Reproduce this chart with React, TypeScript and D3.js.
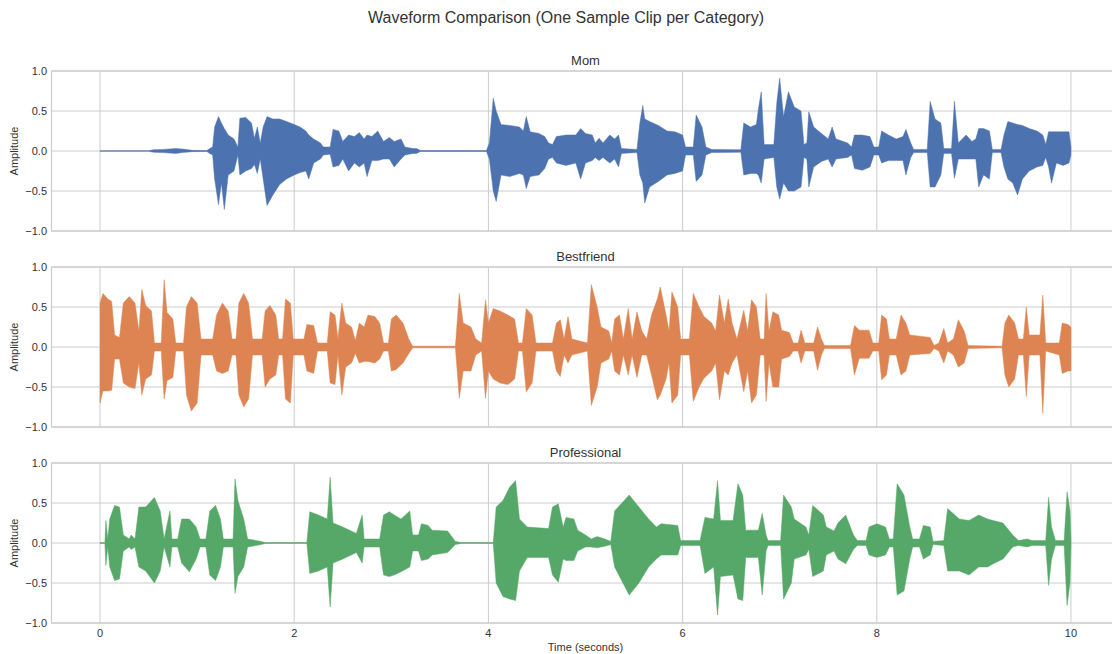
import React from 'react';
import * as d3 from 'd3';

// Categories, in panel order, with their colours
const CATEGORIES = ['Mom', 'Bestfriend', 'Professional'];
const COLORS = ['#4C72B0', '#DD8452', '#55A868'];

const X_TICKS = [0, 2, 4, 6, 8, 10];
const Y_TICKS = [-1, -0.5, 0, 0.5, 1];

// Amplitude envelopes of each clip: [time (s), upper peak, lower peak]
const MOM: [number, number, number][] = [
  [0, 0.003, -0.003], [0.5, 0.003, -0.003], [0.55, 0.015, -0.015], [0.65, 0.02, -0.02],
  [0.78, 0.03, -0.03], [0.85, 0.025, -0.02], [0.95, 0.008, -0.008], [1.1, 0.006, -0.006],
  [1.13, 0.03, -0.03], [1.16, 0.05, -0.05], [1.18, 0.3, -0.35], [1.22, 0.43, -0.67],
  [1.25, 0.35, -0.4], [1.28, 0.28, -0.73], [1.32, 0.2, -0.3], [1.38, 0.15, -0.25],
  [1.42, 0.05, -0.05], [1.44, 0.41, -0.3], [1.5, 0.42, -0.25], [1.56, 0.35, -0.22],
  [1.59, 0.16, -0.17], [1.62, 0.3, -0.28], [1.65, 0.1, -0.1], [1.68, 0.3, -0.35],
  [1.72, 0.43, -0.68], [1.78, 0.4, -0.55], [1.85, 0.4, -0.42], [1.92, 0.37, -0.35],
  [2.0, 0.33, -0.3], [2.06, 0.3, -0.27], [2.12, 0.25, -0.25], [2.15, 0.2, -0.35],
  [2.2, 0.15, -0.15], [2.27, 0.1, -0.1], [2.3, 0.05, -0.05], [2.37, 0.05, -0.04],
  [2.4, 0.27, -0.2], [2.46, 0.25, -0.18], [2.5, 0.12, -0.1], [2.56, 0.2, -0.25],
  [2.62, 0.18, -0.15], [2.67, 0.23, -0.2], [2.72, 0.15, -0.15], [2.75, 0.2, -0.32],
  [2.8, 0.18, -0.12], [2.86, 0.25, -0.12], [2.92, 0.12, -0.1], [2.98, 0.17, -0.1],
  [3.03, 0.12, -0.2], [3.1, 0.15, -0.1], [3.14, 0.05, -0.05], [3.22, 0.03, -0.03],
  [3.26, 0.03, -0.03], [3.3, 0.006, -0.006], [3.98, 0.005, -0.005], [4.01, 0.1, -0.1],
  [4.05, 0.66, -0.5], [4.08, 0.5, -0.63], [4.13, 0.33, -0.3], [4.22, 0.32, -0.32],
  [4.32, 0.3, -0.28], [4.36, 0.25, -0.3], [4.39, 0.43, -0.47], [4.43, 0.24, -0.32],
  [4.52, 0.22, -0.3], [4.58, 0.18, -0.22], [4.62, 0.1, -0.1], [4.66, 0.08, -0.08],
  [4.7, 0.18, -0.15], [4.8, 0.2, -0.18], [4.9, 0.2, -0.15], [4.95, 0.28, -0.35],
  [5.0, 0.22, -0.15], [5.07, 0.2, -0.12], [5.1, 0.1, -0.08], [5.14, 0.16, -0.12],
  [5.18, 0.1, -0.08], [5.25, 0.2, -0.15], [5.3, 0.15, -0.1], [5.34, 0.2, -0.2],
  [5.37, 0.03, -0.03], [5.53, 0.02, -0.02], [5.56, 0.35, -0.3], [5.59, 0.57, -0.4],
  [5.61, 0.4, -0.65], [5.66, 0.37, -0.45], [5.75, 0.32, -0.38], [5.84, 0.25, -0.3],
  [5.92, 0.24, -0.28], [6.0, 0.2, -0.25], [6.03, 0.05, -0.05], [6.11, 0.05, -0.05],
  [6.14, 0.45, -0.38], [6.2, 0.3, -0.3], [6.24, 0.05, -0.05], [6.3, 0.02, -0.02],
  [6.6, 0.015, -0.015], [6.63, 0.35, -0.3], [6.7, 0.3, -0.28], [6.76, 0.33, -0.28],
  [6.78, 0.52, -0.3], [6.81, 0.74, -0.4], [6.84, 0.08, -0.1], [6.94, 0.08, -0.08],
  [6.97, 0.6, -0.45], [7.0, 0.91, -0.6], [7.04, 0.43, -0.4], [7.09, 0.74, -0.5],
  [7.15, 0.55, -0.5], [7.22, 0.5, -0.45], [7.25, 0.08, -0.08], [7.28, 0.1, -0.1],
  [7.3, 0.49, -0.45], [7.35, 0.3, -0.2], [7.43, 0.22, -0.13], [7.5, 0.15, -0.1],
  [7.54, 0.3, -0.2], [7.58, 0.15, -0.1], [7.7, 0.1, -0.08], [7.74, 0.05, -0.05],
  [7.77, 0.2, -0.22], [7.85, 0.2, -0.24], [7.93, 0.18, -0.2], [7.97, 0.05, -0.05],
  [8.02, 0.05, -0.05], [8.05, 0.25, -0.15], [8.12, 0.2, -0.12], [8.2, 0.15, -0.12],
  [8.27, 0.18, -0.12], [8.3, 0.27, -0.3], [8.35, 0.1, -0.08], [8.38, 0.02, -0.02],
  [8.52, 0.02, -0.02], [8.55, 0.62, -0.45], [8.6, 0.4, -0.45], [8.66, 0.35, -0.3],
  [8.69, 0.03, -0.03], [8.77, 0.03, -0.03], [8.8, 0.62, -0.34], [8.84, 0.1, -0.1],
  [8.92, 0.2, -0.1], [8.98, 0.12, -0.1], [9.02, 0.15, -0.1], [9.05, 0.28, -0.45],
  [9.1, 0.28, -0.3], [9.16, 0.25, -0.35], [9.19, 0.02, -0.02], [9.28, 0.02, -0.02],
  [9.31, 0.2, -0.2], [9.35, 0.37, -0.35], [9.4, 0.35, -0.4], [9.45, 0.33, -0.55],
  [9.5, 0.32, -0.35], [9.57, 0.28, -0.25], [9.65, 0.25, -0.2], [9.71, 0.2, -0.18],
  [9.74, 0.08, -0.08], [9.77, 0.24, -0.2], [9.8, 0.24, -0.4], [9.85, 0.24, -0.15],
  [9.92, 0.24, -0.18], [9.98, 0.24, -0.15], [10.0, 0.05, -0.05],
];

const BESTFRIEND: [number, number, number][] = [
  [0.0, 0.55, -0.7], [0.03, 0.67, -0.55], [0.08, 0.6, -0.55], [0.12, 0.57, -0.54],
  [0.15, 0.15, -0.15], [0.2, 0.12, -0.15], [0.24, 0.55, -0.45], [0.3, 0.63, -0.5],
  [0.36, 0.55, -0.52], [0.4, 0.2, -0.2], [0.43, 0.72, -0.6], [0.47, 0.52, -0.4],
  [0.53, 0.45, -0.35], [0.56, 0.05, -0.05], [0.63, 0.05, -0.05], [0.66, 0.84, -0.65],
  [0.69, 0.43, -0.42], [0.75, 0.35, -0.38], [0.78, 0.05, -0.05], [0.86, 0.05, -0.05],
  [0.89, 0.5, -0.6], [0.94, 0.63, -0.8], [1.0, 0.55, -0.7], [1.04, 0.1, -0.1],
  [1.16, 0.1, -0.1], [1.2, 0.4, -0.3], [1.26, 0.55, -0.33], [1.32, 0.45, -0.3],
  [1.36, 0.1, -0.1], [1.4, 0.1, -0.1], [1.43, 0.55, -0.6], [1.48, 0.67, -0.75],
  [1.53, 0.55, -0.65], [1.57, 0.1, -0.1], [1.67, 0.1, -0.1], [1.7, 0.45, -0.5],
  [1.75, 0.52, -0.4], [1.81, 0.4, -0.35], [1.84, 0.1, -0.1], [1.88, 0.1, -0.1],
  [1.91, 0.6, -0.65], [1.96, 0.55, -0.7], [1.99, 0.1, -0.1], [2.1, 0.1, -0.1],
  [2.13, 0.28, -0.3], [2.2, 0.27, -0.33], [2.24, 0.05, -0.05], [2.34, 0.05, -0.05],
  [2.37, 0.44, -0.45], [2.42, 0.4, -0.47], [2.45, 0.1, -0.1], [2.49, 0.55, -0.6],
  [2.53, 0.3, -0.25], [2.59, 0.25, -0.2], [2.63, 0.08, -0.08], [2.67, 0.3, -0.2],
  [2.72, 0.25, -0.18], [2.76, 0.4, -0.18], [2.83, 0.38, -0.2], [2.88, 0.3, -0.15],
  [2.92, 0.05, -0.05], [2.97, 0.05, -0.05], [3.0, 0.35, -0.3], [3.05, 0.4, -0.28],
  [3.12, 0.3, -0.2], [3.18, 0.1, -0.08], [3.22, 0.01, -0.01], [3.66, 0.01, -0.01],
  [3.7, 0.67, -0.64], [3.74, 0.3, -0.3], [3.82, 0.25, -0.3], [3.87, 0.1, -0.1],
  [3.93, 0.05, -0.05], [3.97, 0.59, -0.64], [4.0, 0.3, -0.3], [4.05, 0.48, -0.4],
  [4.12, 0.45, -0.45], [4.2, 0.4, -0.47], [4.27, 0.35, -0.4], [4.31, 0.05, -0.05],
  [4.35, 0.05, -0.05], [4.39, 0.48, -0.56], [4.45, 0.4, -0.45], [4.49, 0.05, -0.05],
  [4.66, 0.05, -0.05], [4.7, 0.3, -0.3], [4.74, 0.34, -0.37], [4.78, 0.1, -0.1],
  [4.82, 0.38, -0.2], [4.86, 0.1, -0.1], [5.02, 0.05, -0.05], [5.06, 0.78, -0.73],
  [5.12, 0.5, -0.5], [5.16, 0.25, -0.2], [5.24, 0.2, -0.15], [5.27, 0.05, -0.05],
  [5.3, 0.35, -0.3], [5.35, 0.4, -0.35], [5.39, 0.1, -0.1], [5.44, 0.48, -0.35],
  [5.48, 0.1, -0.1], [5.53, 0.44, -0.38], [5.58, 0.2, -0.1], [5.63, 0.1, -0.1],
  [5.68, 0.4, -0.35], [5.74, 0.6, -0.66], [5.77, 0.75, -0.6], [5.83, 0.4, -0.4],
  [5.86, 0.2, -0.2], [5.89, 0.69, -0.7], [5.95, 0.5, -0.6], [5.98, 0.1, -0.1],
  [6.07, 0.1, -0.1], [6.11, 0.67, -0.68], [6.17, 0.5, -0.5], [6.22, 0.38, -0.39],
  [6.3, 0.3, -0.3], [6.34, 0.2, -0.2], [6.38, 0.65, -0.66], [6.43, 0.3, -0.3],
  [6.47, 0.6, -0.35], [6.51, 0.3, -0.2], [6.56, 0.1, -0.1], [6.63, 0.46, -0.56],
  [6.67, 0.2, -0.3], [6.71, 0.59, -0.7], [6.76, 0.5, -0.6], [6.8, 0.1, -0.1],
  [6.84, 0.1, -0.1], [6.86, 0.67, -0.68], [6.89, 0.2, -0.2], [6.93, 0.44, -0.5],
  [6.99, 0.4, -0.5], [7.02, 0.21, -0.15], [7.1, 0.18, -0.12], [7.14, 0.05, -0.05],
  [7.19, 0.05, -0.05], [7.22, 0.21, -0.2], [7.26, 0.05, -0.05], [7.35, 0.05, -0.05],
  [7.39, 0.25, -0.29], [7.43, 0.1, -0.1], [7.46, 0.02, -0.02], [7.73, 0.02, -0.02],
  [7.77, 0.27, -0.35], [7.82, 0.21, -0.14], [7.92, 0.21, -0.14], [7.96, 0.05, -0.05],
  [8.02, 0.05, -0.05], [8.05, 0.4, -0.41], [8.1, 0.35, -0.35], [8.13, 0.1, -0.1],
  [8.2, 0.1, -0.1], [8.25, 0.4, -0.35], [8.3, 0.3, -0.3], [8.34, 0.15, -0.1],
  [8.55, 0.12, -0.08], [8.59, 0.02, -0.02], [8.64, 0.05, -0.05], [8.69, 0.23, -0.2],
  [8.73, 0.05, -0.05], [8.79, 0.1, -0.1], [8.84, 0.34, -0.25], [8.9, 0.2, -0.2],
  [8.94, 0.02, -0.02], [9.29, 0.01, -0.01], [9.32, 0.3, -0.35], [9.36, 0.4, -0.5],
  [9.42, 0.3, -0.4], [9.46, 0.1, -0.1], [9.51, 0.1, -0.1], [9.54, 0.5, -0.62],
  [9.57, 0.15, -0.1], [9.68, 0.15, -0.1], [9.71, 0.65, -0.83], [9.74, 0.05, -0.05],
  [9.88, 0.05, -0.1], [9.91, 0.3, -0.33], [9.97, 0.28, -0.3], [10.0, 0.25, -0.3],
];

const PROFESSIONAL: [number, number, number][] = [
  [0.0, 0.005, -0.005], [0.05, 0.005, -0.005], [0.06, 0.28, -0.28], [0.08, 0.05, -0.05],
  [0.1, 0.3, -0.3], [0.15, 0.47, -0.47], [0.2, 0.45, -0.45], [0.24, 0.1, -0.1],
  [0.3, 0.05, -0.05], [0.32, 0.1, -0.08], [0.36, 0.05, -0.05], [0.4, 0.45, -0.3],
  [0.47, 0.45, -0.35], [0.56, 0.57, -0.5], [0.62, 0.4, -0.35], [0.66, 0.05, -0.05],
  [0.72, 0.4, -0.3], [0.74, 0.05, -0.05], [0.8, 0.05, -0.05], [0.84, 0.3, -0.25],
  [0.92, 0.3, -0.36], [0.99, 0.2, -0.2], [1.03, 0.05, -0.05], [1.09, 0.05, -0.05],
  [1.13, 0.4, -0.4], [1.19, 0.47, -0.47], [1.24, 0.3, -0.3], [1.27, 0.05, -0.05],
  [1.37, 0.05, -0.05], [1.39, 0.8, -0.63], [1.42, 0.53, -0.42], [1.48, 0.3, -0.3],
  [1.52, 0.05, -0.05], [1.66, 0.02, -0.02], [1.7, 0.005, -0.005], [2.13, 0.005, -0.005],
  [2.16, 0.39, -0.38], [2.25, 0.35, -0.35], [2.34, 0.3, -0.3], [2.37, 0.82, -0.8],
  [2.4, 0.25, -0.25], [2.5, 0.2, -0.2], [2.64, 0.12, -0.12], [2.7, 0.35, -0.25],
  [2.72, 0.05, -0.05], [2.88, 0.05, -0.05], [2.92, 0.35, -0.4], [2.98, 0.39, -0.42],
  [3.03, 0.35, -0.4], [3.1, 0.3, -0.36], [3.19, 0.4, -0.3], [3.22, 0.1, -0.1],
  [3.28, 0.1, -0.1], [3.31, 0.24, -0.22], [3.38, 0.22, -0.2], [3.42, 0.16, -0.15],
  [3.58, 0.15, -0.12], [3.66, 0.02, -0.02], [3.72, 0.005, -0.005], [4.05, 0.005, -0.005],
  [4.08, 0.45, -0.5], [4.15, 0.53, -0.67], [4.22, 0.7, -0.7], [4.28, 0.78, -0.72],
  [4.32, 0.3, -0.35], [4.4, 0.2, -0.18], [4.62, 0.18, -0.18], [4.66, 0.45, -0.4],
  [4.72, 0.49, -0.49], [4.77, 0.2, -0.2], [4.8, 0.32, -0.22], [4.88, 0.3, -0.22],
  [4.92, 0.16, -0.1], [5.0, 0.1, -0.05], [5.06, 0.05, -0.05], [5.12, 0.08, -0.06],
  [5.2, 0.05, -0.04], [5.26, 0.02, -0.02], [5.3, 0.4, -0.3], [5.45, 0.6, -0.65],
  [5.55, 0.45, -0.5], [5.65, 0.3, -0.3], [5.73, 0.2, -0.2], [5.78, 0.24, -0.15],
  [5.95, 0.22, -0.15], [5.98, 0.03, -0.03], [6.18, 0.03, -0.03], [6.23, 0.32, -0.38],
  [6.32, 0.3, -0.3], [6.36, 0.78, -0.9], [6.39, 0.28, -0.42], [6.52, 0.28, -0.4],
  [6.57, 0.74, -0.7], [6.62, 0.6, -0.72], [6.65, 0.16, -0.18], [6.78, 0.16, -0.18],
  [6.82, 0.37, -0.65], [6.86, 0.1, -0.1], [6.88, 0.03, -0.03], [7.01, 0.03, -0.03],
  [7.04, 0.6, -0.7], [7.12, 0.45, -0.5], [7.15, 0.3, -0.2], [7.27, 0.2, -0.15],
  [7.3, 0.1, -0.08], [7.34, 0.47, -0.42], [7.45, 0.35, -0.35], [7.48, 0.2, -0.15],
  [7.56, 0.15, -0.1], [7.6, 0.25, -0.2], [7.68, 0.35, -0.26], [7.76, 0.1, -0.08],
  [7.8, 0.03, -0.03], [7.89, 0.03, -0.03], [7.92, 0.2, -0.15], [8.0, 0.24, -0.18],
  [8.09, 0.2, -0.15], [8.13, 0.05, -0.05], [8.17, 0.05, -0.05], [8.21, 0.74, -0.65],
  [8.28, 0.6, -0.6], [8.34, 0.2, -0.2], [8.37, 0.05, -0.05], [8.44, 0.05, -0.05],
  [8.48, 0.22, -0.2], [8.55, 0.2, -0.15], [8.58, 0.02, -0.02], [8.69, 0.03, -0.03],
  [8.73, 0.43, -0.35], [8.85, 0.3, -0.35], [8.95, 0.28, -0.4], [9.05, 0.35, -0.3],
  [9.14, 0.3, -0.3], [9.2, 0.28, -0.26], [9.3, 0.25, -0.2], [9.4, 0.1, -0.05],
  [9.46, 0.03, -0.03], [9.55, 0.05, -0.05], [9.6, 0.03, -0.03], [9.74, 0.03, -0.03],
  [9.77, 0.57, -0.53], [9.8, 0.2, -0.2], [9.84, 0.03, -0.03], [9.93, 0.03, -0.03],
  [9.96, 0.64, -0.78], [9.99, 0.4, -0.5], [10.0, 0.05, -0.05],
];

const ENVELOPES = [MOM, BESTFRIEND, PROFESSIONAL];

const WIDTH = 1112;
const HEIGHT = 654;
const PANEL_TOPS = [71, 267, 463];
const PANEL_HEIGHT = 160;
const GRID = '#cccccc';
const TEXT = '#333333';
const FONT = '"Liberation Sans", Arial, sans-serif';

export default function App() {
  const x = d3.scaleLinear().domain([-0.5, 10.5]).range([51.5, 1119.5]);
  const fmt = d3.format('.1f');

  return (
    <div style={{ position: 'fixed', left: 0, top: 0, width: WIDTH, height: HEIGHT, background: '#fff' }}>
      <svg width={WIDTH} height={HEIGHT} style={{ display: 'block' }} fontFamily={FONT}>
        <text x={566} y={23} textAnchor="middle" fontSize={16} fill={TEXT}>
          Waveform Comparison (One Sample Clip per Category)
        </text>
        {CATEGORIES.map((name, i) => {
          const top = PANEL_TOPS[i];
          const y = d3.scaleLinear().domain([-1, 1]).range([top + PANEL_HEIGHT, top]);
          const area = d3
            .area<[number, number, number]>()
            .x((d) => x(d[0]))
            .y0((d) => y(d[2]))
            .y1((d) => y(d[1]))
            .curve(d3.curveLinear);
          const isLast = i === CATEGORIES.length - 1;
          const [x0, x1] = x.range();
          return (
            <g key={name}>
              {/* grid */}
              {Y_TICKS.map((t) => (
                <line key={'h' + t} x1={x0} x2={x1} y1={y(t)} y2={y(t)} stroke={GRID} strokeWidth={1} />
              ))}
              {X_TICKS.map((t) => (
                <line key={'v' + t} x1={x(t)} x2={x(t)} y1={top} y2={top + PANEL_HEIGHT} stroke={GRID} strokeWidth={1} />
              ))}
              {/* spines */}
              <rect x={x0} y={top} width={x1 - x0} height={PANEL_HEIGHT} fill="none" stroke={GRID} strokeWidth={1.2} />
              {/* waveform */}
              <path d={area(ENVELOPES[i]) || ''} fill={COLORS[i]} stroke={COLORS[i]} strokeWidth={0.7} strokeOpacity={0.7} />
              {/* title */}
              <text x={585.5} y={top - 6} textAnchor="middle" fontSize={13} fill={TEXT}>
                {name}
              </text>
              {/* y ticks */}
              {Y_TICKS.map((t) => (
                <text key={'yl' + t} x={47} y={y(t)} dy="0.35em" textAnchor="end" fontSize={11} fill={TEXT}>
                  {fmt(t)}
                </text>
              ))}
              <text
                transform={`translate(${18},${top + PANEL_HEIGHT / 2}) rotate(-90)`}
                textAnchor="middle"
                fontSize={11}
                fill={TEXT}
              >
                Amplitude
              </text>
              {isLast &&
                X_TICKS.map((t) => (
                  <text key={'xl' + t} x={x(t)} y={top + PANEL_HEIGHT + 14} textAnchor="middle" fontSize={11} fill={TEXT}>
                    {t}
                  </text>
                ))}
              {isLast && (
                <text x={585.5} y={top + PANEL_HEIGHT + 28} textAnchor="middle" fontSize={11} fill={TEXT}>
                  Time (seconds)
                </text>
              )}
            </g>
          );
        })}
      </svg>
    </div>
  );
}
